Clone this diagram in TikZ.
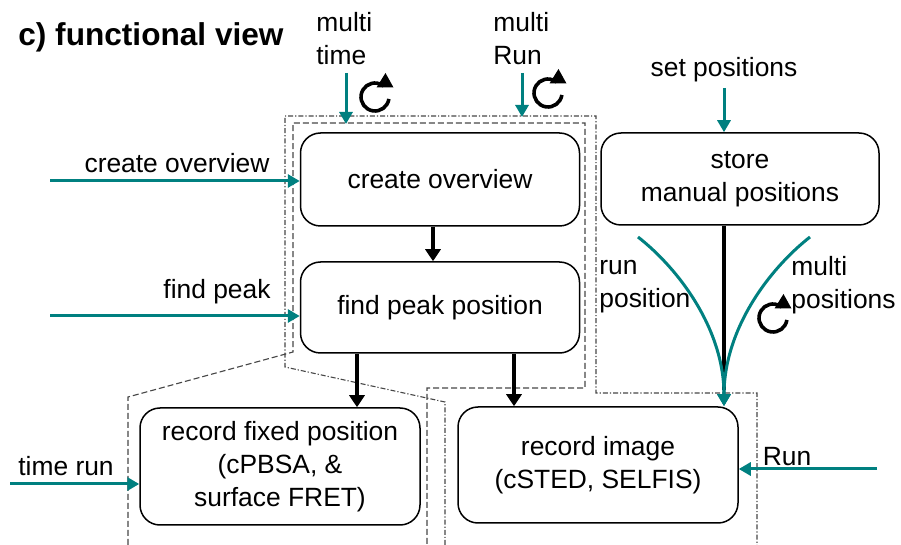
\documentclass[tikz,border=0pt]{standalone}
\usepackage{fontspec}
\setmainfont{Liberation Sans}
\usetikzlibrary{arrows.meta,calc}
\definecolor{flowteal}{RGB}{0,128,128}
\definecolor{grpgray}{RGB}{70,70,70}
\begin{document}
\begin{tikzpicture}[x=0.5pt,y=0.5pt,
  font=\fontsize{13.2pt}{16.5pt}\selectfont,
  box/.style={draw, line width=0.75pt, rounded corners=10pt, align=center, inner sep=2pt},
  blk/.style={line width=2pt, -{Triangle[length=6pt,width=7.5pt]}},
  tl/.style={draw=flowteal, line width=1.5pt, -{Triangle[length=6pt,width=6.5pt]}, flowteal},
  grp/.style={draw=grpgray, line width=0.55pt, dash pattern=on 3pt off 1.5pt},
  grpdot/.style={draw=grpgray, line width=0.55pt, dash pattern=on 2.5pt off 1pt on 0.6pt off 1pt},
  cyc/.style={line width=1.8pt},
  lbl/.style={align=left, inner sep=0pt}
]
\useasboundingbox (0,0) rectangle (901,-545);

% title
\node[anchor=west, inner sep=0pt, font=\fontsize{15.8pt}{18pt}\selectfont\bfseries] (title) at (18,-37) {c) functional view};

% grouping outlines
\draw[grp] (128,-545) -- (128,-397) -- (293,-352) -- (293,-123) -- (585,-123)
  -- (585,-388) -- (427,-388) -- (427,-545);
\draw[grpdot] (445,-545) -- (445,-402) -- (285,-367) -- (285,-116) -- (596,-116)
  -- (596,-393) -- (757,-393) -- (757,-545);

% process steps
\node[box, minimum width=139.5pt, minimum height=46.5pt] (co) at (440,-179.5) {create overview};
\node[box, minimum width=139.5pt, minimum height=45.5pt] (fp) at (440,-307.5) {find peak position};
\node[box, minimum width=139pt, minimum height=46pt] (st) at (740,-179) {store\\manual positions};
\node[box, minimum width=140pt, minimum height=58.5pt] (rf) at (280,-466.5) {record fixed position\\(cPBSA, \&\\surface FRET)};
\node[box, minimum width=140pt, minimum height=58pt] (ri) at (598,-465) {record image\\(cSTED, SELFIS)};

% flow between steps
\draw[blk] ([xshift=-3.5pt]co.south) -- ([xshift=-3.5pt]fp.north);
\draw[blk] ([xshift=-41.5pt]fp.south) -- ([xshift=38.5pt]rf.north);
\draw[blk] ([xshift=37pt]fp.south) -- ([xshift=-42pt]ri.north);
\draw[line width=2pt, shorten >=8pt] ([xshift=-8pt]st.south) -- ([xshift=63pt]ri.north);

% inputs
\coordinate (inCO) at (50,-181);
\coordinate (inFP) at (50,-316);
\coordinate (inTR) at (10,-484);
\coordinate (inRun) at (877,-469);
\coordinate (inSP) at (724,-88);
\coordinate (mtA) at (346,-73);
\coordinate (mtB) at (346,-124);
\coordinate (mrA) at (522,-73);
\coordinate (mrB) at (522,-117);
\coordinate (rpA) at (638,-237);
\coordinate (mpA) at (810,-237);

\draw[tl] (inCO) -- (inCO -| co.west);
\draw[tl] (inFP) -- (inFP -| fp.west);
\draw[tl] (inTR) -- (inTR -| rf.west);
\draw[tl] (inRun) -- (inRun -| ri.east);
\draw[tl] (inSP) -- (inSP |- st.north);
\draw[tl] (mtA) -- (mtB);
\draw[tl] (mrA) -- (mrB);
\draw[tl] (rpA) .. controls (680,-270) and (724,-330) .. ([xshift=63pt]ri.north);
\draw[tl] (mpA) .. controls (768,-270) and (724,-330) .. ([xshift=63pt]ri.north);

% input labels
\node[lbl] (lCO) at (177,-163) {create overview};
\node[lbl] (lFP) at (217,-292) {find peak};
\node[lbl] (lTR) at (66,-466) {time run};
\node[lbl] (lRun) at (787,-457) {Run};
\node[lbl] (lSP) at (724,-70) {set positions};
\node[lbl, anchor=west] (lMT) at (316,-39) {multi\\time};
\node[lbl, anchor=west] (lMR) at (493,-39) {multi\\Run};
\node[lbl, anchor=west] (lRP) at (599,-287) {run\\position};
\node[lbl, anchor=west] (lMP) at (791,-285) {multi\\positions};

% repeat symbols: open arc with a filled head at the top right
\coordinate (c1) at (375,-97);
\coordinate (c2) at (548,-93);
\coordinate (c3) at (773,-318);
\foreach \c in {c1,c2,c3}{
  \draw[cyc] ($(\c)+(-8:14)$) arc[start angle=-8, end angle=-308, radius=14];
  \fill ($(\c)+(1.5,9.5)$) -- ($(\c)+(18.5,9.5)$) -- ($(\c)+(10.5,24)$) -- cycle;
}
\end{tikzpicture}
\end{document}
